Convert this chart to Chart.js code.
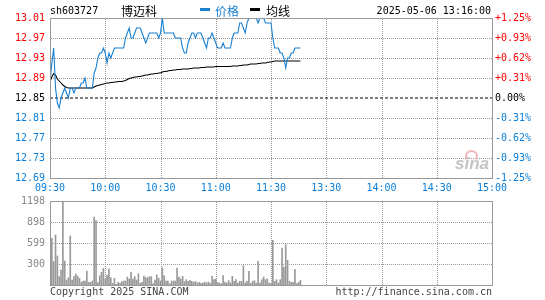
<!DOCTYPE html>
<html>
<head>
<meta charset="utf-8">
<script src="https://cdn.jsdelivr.net/npm/chart.js@4/dist/chart.umd.min.js"></script>
<style>
  html, body { margin: 0; padding: 0; background: #fff; }
  #wrap { position: relative; width: 545px; height: 300px; overflow: hidden; background: #fff; }
  canvas { position: absolute; left: 0; }
  .t { position: absolute; font-family: "DejaVu Sans Mono", "Liberation Mono", monospace; font-size: 10px; line-height: 12px; white-space: nowrap; }
  .cjk { position: absolute; font-family: "Noto Sans CJK SC", sans-serif; font-size: 12px; line-height: 14px; white-space: nowrap; }
</style>
</head>
<body>
<div id="wrap">
  <canvas id="pc" width="545" height="200" style="top:0"></canvas>
  <canvas id="vc" width="545" height="110" style="top:190px"></canvas>
  <div class="t" style="left:50px;top:5px;color:#000">sh603727</div>
  <div class="cjk" style="left:121px;top:4px;color:#000">博迈科</div>
  <div style="position:absolute;left:200px;top:8px;width:10px;height:3px;background:#1a80d0"></div>
  <div class="cjk" style="left:215px;top:4px;color:#1a80d0">价格</div>
  <div style="position:absolute;left:250px;top:8px;width:10px;height:3px;background:#000"></div>
  <div class="cjk" style="left:266px;top:4px;color:#000">均线</div>
  <div class="t" style="right:54px;top:5px;color:#000">2025-05-06 13:16:00</div>
  <div style="position:absolute;left:465px;top:150px;width:9px;height:8px;border:2px solid #f2b8b8;border-radius:50%;border-bottom-color:transparent"></div>
  <div style="position:absolute;left:455px;top:155px;font-family:'Liberation Sans',Arial,sans-serif;font-style:italic;font-weight:bold;font-size:17px;line-height:18px;color:#c4c4c4">sina</div>
  <div class="t" style="left:50px;top:286px;color:#444">Copyright 2025 SINA.COM</div>
  <div class="t" style="right:53px;top:286px;color:#444">http://finance.sina.com.cn</div>
</div>
<script>
// ---- data ----
const timeTickPos = [0, 30, 60, 90, 120, 150, 180, 210, 240];
const timeLabels = ["09:30", "10:00", "10:30", "11:00", "11:30", "13:30", "14:00", "14:30", "15:00"];
const prevClose = 12.85;
const priceTicks = [12.69, 12.73, 12.77, 12.81, 12.85, 12.89, 12.93, 12.97, 13.01];
const priceTickLabels = ["12.69", "12.73", "12.77", "12.81", "12.85", "12.89", "12.93", "12.97", "13.01"];
const pctTickLabels = ["-1.25%", "-0.93%", "-0.62%", "-0.31%", "0.00%", "+0.31%", "+0.62%", "+0.93%", "+1.25%"];
const volTicks = [0, 299.5, 599, 898.5, 1198];
const volTickLabels = ["", "300", "599", "898", "1198"];

const prices = [
  12.88, 12.92, 12.95, 12.87, 12.84, 12.83, 12.85, 12.86, 12.87, 12.86,
  12.85, 12.87, 12.87, 12.86, 12.87, 12.87, 12.87, 12.88, 12.88, 12.89,
  12.87, 12.87, 12.87, 12.87, 12.90, 12.91, 12.93, 12.94, 12.94, 12.95,
  12.94, 12.92, 12.94, 12.93, 12.94, 12.95, 12.95, 12.95, 12.95, 12.95,
  12.95, 12.97, 12.98, 12.99, 12.97, 12.97, 12.98, 12.99, 12.99, 12.99,
  12.98, 12.97, 12.96, 12.97, 12.98, 12.98, 12.98, 12.98, 12.98, 12.97,
  12.98, 13.01, 12.98, 12.98, 12.98, 12.98, 12.98, 12.98, 12.97, 12.97,
  12.97, 12.97, 12.95, 12.94, 12.94, 12.96, 12.97, 12.98, 12.98, 12.97,
  12.98, 12.98, 12.98, 12.97, 12.96, 12.95, 12.97, 12.97, 12.98, 12.97,
  12.96, 12.95, 12.95, 12.95, 12.96, 12.95, 12.95, 12.95, 12.95, 12.97,
  12.98, 12.98, 12.98, 13.00, 13.00, 12.99, 12.98, 13.00, 13.01, 13.01,
  13.01, 13.01, 13.01, 13.00, 13.01, 13.01, 13.01, 13.00, 13.00, 13.00,
  13.00, 12.97, 12.95, 12.95, 12.95, 12.94, 12.94, 12.93, 12.91, 12.93,
  12.93, 12.94, 12.94, 12.95, 12.95, 12.95, 12.95
];
const avgPrices = [
  12.883, 12.892, 12.899, 12.896, 12.888, 12.884, 12.880, 12.876, 12.873, 12.871,
  12.870, 12.870, 12.870, 12.870, 12.870, 12.870, 12.870, 12.870, 12.870, 12.870,
  12.870, 12.870, 12.870, 12.870, 12.872, 12.874, 12.875, 12.876, 12.877, 12.878,
  12.879, 12.880, 12.880, 12.881, 12.881, 12.882, 12.882, 12.883, 12.883, 12.883,
  12.884, 12.885, 12.887, 12.889, 12.890, 12.891, 12.892, 12.892, 12.893, 12.893,
  12.894, 12.895, 12.896, 12.896, 12.897, 12.898, 12.898, 12.899, 12.899, 12.900,
  12.900, 12.902, 12.903, 12.903, 12.904, 12.905, 12.905, 12.906, 12.906, 12.907,
  12.907, 12.907, 12.908, 12.908, 12.908, 12.908, 12.909, 12.909, 12.910, 12.910,
  12.910, 12.910, 12.911, 12.911, 12.911, 12.912, 12.912, 12.912, 12.912, 12.912,
  12.913, 12.913, 12.913, 12.913, 12.913, 12.913, 12.913, 12.913, 12.913, 12.914,
  12.914, 12.914, 12.914, 12.915, 12.915, 12.916, 12.916, 12.916, 12.917, 12.918,
  12.918, 12.918, 12.918, 12.919, 12.919, 12.920, 12.920, 12.920, 12.921, 12.922,
  12.922, 12.923, 12.924, 12.924, 12.924, 12.924, 12.924, 12.924, 12.924, 12.924,
  12.924, 12.924, 12.924, 12.924, 12.924, 12.924, 12.924
];
const volumes = [
  214, 666, 333, 713, 414, 119, 214, 1198, 342, 71,
  105, 699, 71, 119, 157, 128, 95, 38, 57, 57,
  200, 38, 38, 57, 970, 917, 33, 133, 181, 238,
  86, 143, 228, 105, 24, 95, 10, 38, 24, 48,
  57, 57, 114, 86, 181, 86, 119, 71, 162, 24,
  38, 128, 105, 105, 119, 119, 19, 71, 143, 95,
  57, 247, 133, 57, 57, 19, 57, 57, 57, 242,
  114, 86, 124, 48, 76, 52, 67, 52, 38, 52,
  29, 38, 24, 29, 43, 29, 43, 24, 124, 76,
  86, 38, 29, 19, 133, 38, 29, 62, 29, 124,
  52, 76, 29, 52, 52, 276, 29, 52, 195, 24,
  52, 62, 29, 338, 29, 76, 114, 76, 86, 29,
  19, 637, 52, 76, 29, 76, 528, 257, 575, 352,
  52, 38, 38, 219, 19, 38, 67
];

// ---- styles ----
const BLUE = '#1a80d0';
const LBLUE = '#0a7ed8';
const RED = '#ff0000';
const GRID = '#999999';
const FRAME = '#999999';
const MONO = { family: '"DejaVu Sans Mono", "Liberation Mono", monospace', size: 10 };

// frame + dotted inner grid (grid drawn beneath the marks), positioned by the chart's own scales
const framePlugin = {
  id: 'frame',
  afterDraw(chart) {
    const a = chart.chartArea, c = chart.ctx;
    const skipY = chart.canvas.id === 'pc' ? [4] : [];
    c.save();
    c.globalCompositeOperation = 'destination-over';
    c.strokeStyle = GRID;
    c.lineWidth = 1;
    c.setLineDash([1, 1]);
    const xs = chart.scales.x;
    for (let i = 1; i < xs.ticks.length - 1; i++) {
      const px = Math.round(xs.getPixelForValue(xs.ticks[i].value)) + 0.5;
      c.beginPath(); c.moveTo(px, a.top + 1); c.lineTo(px, a.bottom); c.stroke();
    }
    const ys = chart.scales.y;
    for (let i = 1; i < ys.ticks.length - 1; i++) {
      if (skipY.indexOf(i) >= 0) continue;
      const py = Math.round(ys.getPixelForValue(ys.ticks[i].value)) + 0.5;
      c.beginPath(); c.moveTo(a.left + 1, py); c.lineTo(a.right, py); c.stroke();
    }
    c.restore();
    c.save();
    c.strokeStyle = FRAME;
    c.lineWidth = 1;
    c.strokeRect(Math.round(a.left) + 0.5, Math.round(a.top) + 0.5, Math.round(a.right - a.left), Math.round(a.bottom - a.top));
    c.restore();
  }
};

function tickColor(i) { return i < 4 ? LBLUE : (i === 4 ? '#000' : RED); }

new Chart(document.getElementById('pc'), {
  type: 'line',
  data: {
    datasets: [
      { data: prices.map((v, i) => ({ x: i, y: v })), borderColor: BLUE, borderWidth: 1.1, pointRadius: 0, tension: 0, order: 0 },
      { data: avgPrices.map((v, i) => ({ x: i, y: v })), borderColor: '#000', borderWidth: 1.1, pointRadius: 0, tension: 0, order: 1 },
      { data: [{ x: 0, y: prevClose }, { x: 240, y: prevClose }], borderColor: '#000', borderWidth: 1, borderDash: [3, 2], pointRadius: 0, order: 2 }
    ]
  },
  options: {
    responsive: false, animation: false, events: [],
    layout: { padding: { top: 18, left: 0, right: 0, bottom: 0 } },
    plugins: { legend: { display: false }, tooltip: { enabled: false } },
    scales: {
      x: {
        type: 'linear', min: 0, max: 240,
        afterBuildTicks: (s) => { s.ticks = timeTickPos.map(v => ({ value: v })); },
        afterFit: (s) => { s.height = 22; },
        ticks: { callback: (v, i) => timeLabels[i], color: LBLUE, font: MONO, maxRotation: 0, autoSkip: false, padding: 4 },
        grid: { display: false, drawTicks: false },
        border: { display: false }
      },
      y: {
        position: 'left', min: 12.69, max: 13.01,
        afterBuildTicks: (s) => { s.ticks = priceTicks.map(v => ({ value: v })); },
        afterFit: (s) => { s.width = 50; },
        ticks: { callback: (v, i) => priceTickLabels[i], color: (c) => tickColor(c.index), font: MONO, padding: 5, autoSkip: false },
        grid: { display: false, drawTicks: false },
        border: { display: false }
      },
      y2: {
        position: 'right', min: 12.69, max: 13.01,
        afterBuildTicks: (s) => { s.ticks = priceTicks.map(v => ({ value: v })); },
        afterFit: (s) => { s.width = 53; },
        ticks: { callback: (v, i) => pctTickLabels[i], color: (c) => tickColor(c.index), font: MONO, padding: 3, autoSkip: false },
        grid: { display: false, drawTicks: false },
        border: { display: false }
      }
    }
  },
  plugins: [framePlugin]
});

new Chart(document.getElementById('vc'), {
  type: 'bar',
  data: {
    datasets: [
      { data: volumes.map((v, i) => ({ x: i, y: v })), backgroundColor: '#999999', borderWidth: 0, barThickness: 1 }
    ]
  },
  options: {
    responsive: false, animation: false, events: [],
    layout: { padding: { top: 11, left: 0, right: 53, bottom: 0 } },
    plugins: { legend: { display: false }, tooltip: { enabled: false } },
    scales: {
      x: {
        type: 'linear', min: 0, max: 240, offset: false,
        afterBuildTicks: (s) => { s.ticks = timeTickPos.map(v => ({ value: v })); },
        afterFit: (s) => { s.height = 15; },
        ticks: { display: false, autoSkip: false },
        grid: { display: false, drawTicks: false },
        border: { display: false }
      },
      y: {
        position: 'left', min: 0, max: 1198,
        afterBuildTicks: (s) => { s.ticks = volTicks.map(v => ({ value: v })); },
        afterFit: (s) => { s.width = 50; },
        ticks: { callback: (v, i) => volTickLabels[i], color: '#888888', font: MONO, padding: 5, autoSkip: false },
        grid: { display: false, drawTicks: false },
        border: { display: false }
      }
    }
  },
  plugins: [framePlugin]
});
</script>
</body>
</html>
